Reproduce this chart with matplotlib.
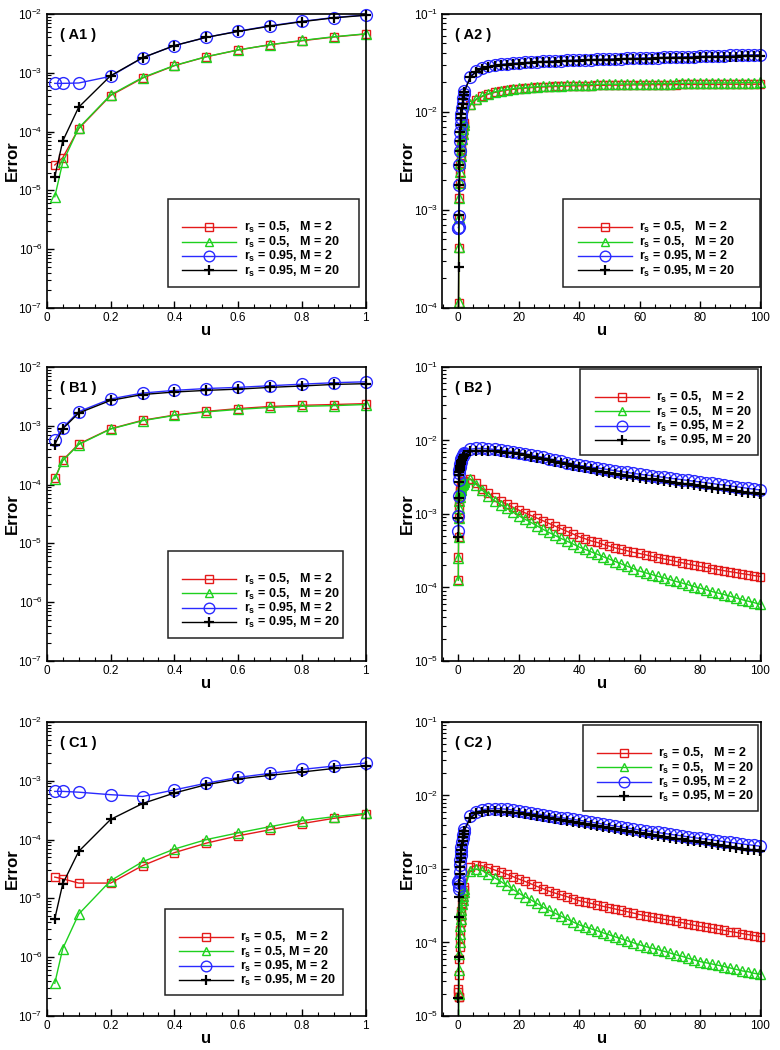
import numpy as np
import matplotlib
matplotlib.use('Agg')
import matplotlib.pyplot as plt
from matplotlib.ticker import LogLocator, MultipleLocator, FuncFormatter, NullFormatter
from matplotlib.patches import Rectangle

plt.rcParams['font.family'] = ['Liberation Sans', 'DejaVu Sans']
plt.rcParams['mathtext.fontset'] = 'custom'
plt.rcParams['mathtext.rm'] = 'Liberation Sans'
plt.rcParams['mathtext.bf'] = 'Liberation Sans:bold'
plt.rcParams['mathtext.it'] = 'Liberation Sans:italic'

# u grid (left panels), right panels continue with u_far
u_left = [0.025, 0.05, 0.1, 0.2, 0.3, 0.4, 0.5, 0.6, 0.7, 0.8, 0.9, 1.0]
u_far = [1.2, 1.4, 1.6, 1.8] + list(range(2, 101, 2))

labels = [r'r$_\mathbf{s}$ = 0.5,   M = 2', r'r$_\mathbf{s}$ = 0.5,   M = 20',
          r'r$_\mathbf{s}$ = 0.95, M = 2', r'r$_\mathbf{s}$ = 0.95, M = 20']
labels_c = [r'r$_\mathbf{s}$ = 0.5,   M = 2', r'r$_\mathbf{s}$ = 0.5, M = 20',
            r'r$_\mathbf{s}$ = 0.95, M = 2', r'r$_\mathbf{s}$ = 0.95, M = 20']

# ---- case A
a1_red = [2.7e-5, 3.6e-5, 1.12e-4, 4.1e-4, 8.1e-4, 1.32e-3, 1.87e-3, 2.44e-3, 3.0e-3, 3.5e-3, 4.06e-3, 4.56e-3]
a1_green = [7.8e-6, 3.0e-5, 1.15e-4, 4.2e-4, 8.3e-4, 1.33e-3, 1.88e-3, 2.45e-3, 3.0e-3, 3.55e-3, 4.1e-3, 4.6e-3]
a1_blue = [6.6e-4, 6.6e-4, 6.7e-4, 8.7e-4, 1.8e-3, 2.9e-3, 4.0e-3, 5.1e-3, 6.3e-3, 7.5e-3, 8.7e-3, 9.6e-3]
a1_black = [1.7e-5, 6.9e-5, 2.6e-4, 8.9e-4, 1.8e-3, 2.9e-3, 4.0e-3, 5.05e-3, 6.2e-3, 7.4e-3, 8.6e-3, 9.5e-3]

# far part (x1e-3)
a2_red = [5.2, 5.9, 6.6, 7.2,
          7.8, 11.7, 13.4, 14.4, 15.2, 15.8, 16.3, 16.7, 17.0, 17.3,
          17.5, 17.7, 17.9, 18.0, 18.1, 18.2, 18.3, 18.4, 18.5, 18.5,
          18.6, 18.6, 18.7, 18.7, 18.8, 18.8, 18.8, 18.9, 18.9, 18.9,
          18.9, 19.0, 19.0, 19.0, 19.0, 19.0, 19.1, 19.1, 19.1, 19.1,
          19.1, 19.1, 19.1, 19.2, 19.2, 19.2, 19.2, 19.2, 19.2, 19.2]
a2_green = [5.3, 6.0, 6.7, 7.3,
            7.9, 12.0, 13.6, 14.6, 15.4, 16.0, 16.5, 16.9, 17.2, 17.5,
            17.7, 17.9, 18.1, 18.2, 18.4, 18.5, 18.6, 18.7, 18.8, 18.9,
            19.0, 19.0, 19.1, 19.1, 19.2, 19.2, 19.3, 19.3, 19.3, 19.4,
            19.4, 19.4, 19.5, 19.5, 19.5, 19.6, 19.6, 19.6, 19.7, 19.7,
            19.7, 19.7, 19.8, 19.8, 19.8, 19.8, 19.9, 19.9, 19.9, 20.0]
a2_blue = [11.0, 12.4, 13.8, 15.2,
           16.5, 23.0, 26.2, 28.0, 29.2, 30.0, 30.6, 31.0, 31.4, 31.7,
           32.0, 32.3, 32.6, 32.8, 33.0, 33.2, 33.4, 33.6, 33.8, 34.0,
           34.1, 34.3, 34.4, 34.6, 34.7, 34.9, 35.0, 35.2, 35.3, 35.5,
           35.6, 35.8, 35.9, 36.1, 36.2, 36.4, 36.5, 36.7, 36.8, 37.0,
           37.1, 37.3, 37.4, 37.6, 37.7, 37.9, 38.0, 38.2, 38.3, 38.5]
a2_black = [10.9, 12.2, 13.5, 14.8,
            16.0, 22.8, 25.8, 27.5, 28.6, 29.4, 30.0, 30.5, 30.9, 31.2,
            31.5, 31.8, 32.1, 32.3, 32.5, 32.7, 32.9, 33.1, 33.3, 33.5,
            33.6, 33.8, 33.9, 34.0, 34.2, 34.3, 34.4, 34.6, 34.7, 34.8,
            34.9, 35.1, 35.2, 35.3, 35.4, 35.6, 35.7, 35.8, 35.9, 36.1,
            36.2, 36.3, 36.4, 36.5, 36.7, 36.8, 36.9, 37.0, 37.1, 37.2]

# ---- case B
b1_red = [1.27e-4, 2.6e-4, 4.9e-4, 8.9e-4, 1.24e-3, 1.52e-3, 1.76e-3, 1.96e-3, 2.13e-3, 2.23e-3, 2.3e-3, 2.38e-3]
b1_green = [1.25e-4, 2.55e-4, 4.8e-4, 8.8e-4, 1.22e-3, 1.5e-3, 1.72e-3, 1.9e-3, 2.05e-3, 2.14e-3, 2.2e-3, 2.3e-3]
b1_blue = [5.8e-4, 9.3e-4, 1.74e-3, 2.86e-3, 3.6e-3, 4.0e-3, 4.3e-3, 4.5e-3, 4.8e-3, 5.1e-3, 5.4e-3, 5.6e-3]
b1_black = [4.8e-4, 8.9e-4, 1.65e-3, 2.7e-3, 3.4e-3, 3.75e-3, 4.0e-3, 4.2e-3, 4.5e-3, 4.75e-3, 5.05e-3, 5.2e-3]

b2_red = [2.48, 2.58, 2.68, 2.76,
          2.85, 3.0, 2.6, 2.2, 1.9, 1.68, 1.50, 1.36, 1.24, 1.13,
          1.04, 0.957, 0.88, 0.81, 0.745, 0.685, 0.63, 0.58, 0.534, 0.49,
          0.46, 0.43, 0.41, 0.385, 0.365, 0.345, 0.33, 0.315, 0.30, 0.29,
          0.278, 0.266, 0.255, 0.245, 0.235, 0.226, 0.217, 0.209, 0.201, 0.194,
          0.187, 0.181, 0.175, 0.169, 0.164, 0.159, 0.154, 0.150, 0.145, 0.141]
b2_green = [2.45, 2.55, 2.65, 2.75,
            2.85, 2.95, 2.5, 2.1, 1.75, 1.52, 1.34, 1.19, 1.06, 0.95,
            0.85, 0.77, 0.69, 0.62, 0.56, 0.51, 0.465, 0.425, 0.39, 0.355,
            0.329, 0.305, 0.283, 0.262, 0.243, 0.225, 0.209, 0.194, 0.180, 0.167,
            0.158, 0.150, 0.142, 0.135, 0.128, 0.121, 0.115, 0.109, 0.103, 0.098,
            0.093, 0.088, 0.084, 0.080, 0.076, 0.072, 0.068, 0.065, 0.062, 0.059]
b2_blue = [5.9, 6.2, 6.4, 6.6,
           6.8, 7.6, 7.8, 7.8, 7.7, 7.55, 7.4, 7.25, 7.05, 6.85,
           6.62, 6.38, 6.14, 5.9, 5.67, 5.45, 5.23, 5.01, 4.81, 4.6,
           4.47, 4.35, 4.23, 4.11, 3.99, 3.88, 3.77, 3.67, 3.57, 3.47,
           3.39, 3.31, 3.23, 3.15, 3.07, 3.0, 2.93, 2.86, 2.79, 2.73,
           2.66, 2.6, 2.53, 2.47, 2.41, 2.35, 2.29, 2.23, 2.17, 2.12]
b2_black = [5.5, 5.8, 6.0, 6.2,
            6.4, 7.1, 7.3, 7.3, 7.25, 7.15, 7.0, 6.85, 6.67, 6.48,
            6.27, 6.05, 5.83, 5.6, 5.38, 5.16, 4.94, 4.73, 4.51, 4.3,
            4.16, 4.03, 3.9, 3.77, 3.65, 3.53, 3.42, 3.31, 3.2, 3.1,
            3.02, 2.95, 2.87, 2.8, 2.73, 2.66, 2.59, 2.53, 2.46, 2.4,
            2.34, 2.28, 2.22, 2.16, 2.1, 2.05, 2.0, 1.95, 1.9, 1.85]

# ---- case C
c1_red = [2.3e-5, 2.15e-5, 1.82e-5, 1.82e-5, 3.6e-5, 6.0e-5, 8.7e-5, 1.16e-4, 1.47e-4, 1.87e-4, 2.3e-4, 2.7e-4]
c1_green = [3.6e-7, 1.4e-6, 5.4e-6, 2.0e-5, 4.2e-5, 6.9e-5, 1.0e-4, 1.3e-4, 1.66e-4, 2.1e-4, 2.45e-4, 2.8e-4]
c1_blue = [6.6e-4, 6.6e-4, 6.4e-4, 5.8e-4, 5.4e-4, 7.0e-4, 9.1e-4, 1.14e-3, 1.34e-3, 1.56e-3, 1.78e-3, 2.0e-3]
c1_black = [4.5e-6, 1.77e-5, 6.3e-5, 2.2e-4, 4.1e-4, 6.2e-4, 8.6e-4, 1.07e-3, 1.24e-3, 1.41e-3, 1.62e-3, 1.8e-3]

c2_red = [0.33, 0.39, 0.45, 0.51,
          0.57, 1.05, 1.13, 1.1, 1.04, 0.97, 0.91, 0.85, 0.79, 0.73,
          0.68, 0.63, 0.58, 0.54, 0.50, 0.47, 0.445, 0.42, 0.395, 0.37,
          0.355, 0.34, 0.325, 0.31, 0.298, 0.285, 0.273, 0.262, 0.251, 0.24,
          0.231, 0.223, 0.215, 0.207, 0.200, 0.193, 0.186, 0.179, 0.172, 0.166,
          0.161, 0.156, 0.151, 0.146, 0.141, 0.137, 0.132, 0.128, 0.124, 0.12]
c2_green = [0.33, 0.38, 0.43, 0.48,
            0.53, 0.95, 1.0, 0.95, 0.85, 0.76, 0.68, 0.6, 0.53, 0.47,
            0.42, 0.38, 0.34, 0.305, 0.275, 0.25, 0.228, 0.208, 0.19, 0.174,
            0.163, 0.153, 0.144, 0.135, 0.127, 0.119, 0.112, 0.105, 0.099, 0.093,
            0.088, 0.084, 0.080, 0.076, 0.072, 0.068, 0.065, 0.061, 0.058, 0.055,
            0.053, 0.051, 0.049, 0.047, 0.045, 0.043, 0.041, 0.040, 0.038, 0.037]
c2_blue = [2.3, 2.6, 2.9, 3.2,
           3.5, 5.2, 6.0, 6.4, 6.6, 6.65, 6.6, 6.5, 6.35, 6.15,
           5.97, 5.8, 5.63, 5.47, 5.31, 5.16, 5.01, 4.87, 4.73, 4.6,
           4.46, 4.33, 4.2, 4.07, 3.95, 3.83, 3.72, 3.61, 3.5, 3.4,
           3.31, 3.22, 3.14, 3.05, 2.97, 2.89, 2.82, 2.74, 2.67, 2.6,
           2.54, 2.48, 2.42, 2.36, 2.3, 2.25, 2.19, 2.14, 2.09, 2.04]
c2_black = [2.1, 2.4, 2.7, 3.0,
            3.3, 5.0, 5.7, 6.0, 6.1, 6.1, 6.05, 5.95, 5.85, 5.75,
            5.57, 5.4, 5.23, 5.07, 4.91, 4.76, 4.61, 4.47, 4.33, 4.2,
            4.07, 3.95, 3.83, 3.71, 3.6, 3.49, 3.39, 3.29, 3.19, 3.1,
            3.01, 2.92, 2.83, 2.75, 2.67, 2.59, 2.52, 2.44, 2.37, 2.3,
            2.24, 2.18, 2.12, 2.06, 2.0, 1.95, 1.89, 1.84, 1.79, 1.75]

colors = ['#e41a1a', '#1ed01e', '#2a2aff', 'black']
markers = ['s', '^', 'o', '+']
msizes = [6.0, 7.0, 8.5, 7.5]

fig = plt.figure(figsize=(7.8, 10.5), dpi=100)

W = 0.409
rows_bottom = [0.7067, 0.3705, 0.0324]
H = 0.28
left_x, right_x = 0.060, 0.567


def setup(ax, left, ylo, yhi):
    ax.set_yscale('log')
    ax.set_ylim(ylo, yhi)
    if left:
        ax.set_xlim(0, 1)
        ax.xaxis.set_major_locator(MultipleLocator(0.2))
        ax.xaxis.set_minor_locator(MultipleLocator(0.05))
    else:
        ax.set_xlim(-5.3, 100.3)
        ax.xaxis.set_major_locator(MultipleLocator(20))
        ax.xaxis.set_minor_locator(MultipleLocator(5))
    ax.xaxis.set_major_formatter(FuncFormatter(lambda v, p: '%g' % v))
    ax.yaxis.set_major_locator(LogLocator(base=10, numticks=20))
    ax.yaxis.set_minor_locator(LogLocator(base=10, subs=np.arange(2, 10), numticks=20))
    ax.yaxis.set_minor_formatter(NullFormatter())
    ax.tick_params(which='both', direction='in', top=False, right=False, labelsize=8.5, pad=3)
    ax.tick_params(which='major', length=5, width=1)
    ax.tick_params(which='minor', length=3, width=0.8)
    for s in ax.spines.values():
        s.set_linewidth(1.2)
    ax.set_ylabel('Error', fontsize=12, fontweight='bold', labelpad=-1)
    ax.set_xlabel('u', fontsize=12, fontweight='bold', labelpad=-1)


def draw(ax, x, series, ylo):
    x = np.asarray(x)
    for y, c, m, ms in zip(series, colors, markers, msizes):
        y = np.asarray(y)
        ax.plot(x, y, '-', color=c, lw=1.0)
        keep = y >= ylo
        ax.plot(x[keep], y[keep], ls='none', marker=m, color=c, ms=ms,
                mfc='none', mec=c, mew=1.6 if m == '+' else 1.0, clip_on=False)


def legend(ax, box, labs):
    x0, y0, x1, y1 = box
    ax.add_patch(Rectangle((x0, y0), x1 - x0, y1 - y0, transform=ax.transAxes,
                           facecolor='white', edgecolor='#222222', lw=1.1, zorder=6))
    handles = [plt.Line2D([], [], color=c, lw=1.0, marker=m, ms=ms * 0.9, mfc='none',
                          mec=c, mew=1.6 if m == '+' else 1.0)
               for c, m, ms in zip(colors, markers, msizes)]
    leg = ax.legend(handles, labs, loc='upper left', bbox_to_anchor=(x0 + 0.045, y1 - 0.072),
                    frameon=False, handlelength=4.3, handletextpad=0.6, labelspacing=-0.06,
                    handleheight=0.6, borderpad=0, borderaxespad=0,
                    prop={'size': 9, 'weight': 'bold'})
    leg.set_zorder(7)


panels = [
    ('( A1 )', True, 1e-7, 1e-2, u_left, [a1_red, a1_green, a1_blue, a1_black], (0.38, 0.072, 0.978, 0.37), labels),
    ('( A2 )', False, 1e-4, 1e-1, u_left + u_far,
     [a1_red + [v * 1e-3 for v in a2_red], a1_green + [v * 1e-3 for v in a2_green],
      a1_blue + [v * 1e-3 for v in a2_blue], a1_black + [v * 1e-3 for v in a2_black]],
     (0.38, 0.072, 0.997, 0.37), labels),
    ('( B1 )', True, 1e-7, 1e-2, u_left, [b1_red, b1_green, b1_blue, b1_black], (0.38, 0.078, 0.93, 0.374), labels),
    ('( B2 )', False, 1e-5, 1e-1, u_left + u_far,
     [b1_red + [v * 1e-3 for v in b2_red], b1_green + [v * 1e-3 for v in b2_green],
      b1_blue + [v * 1e-3 for v in b2_blue], b1_black + [v * 1e-3 for v in b2_black]],
     (0.433, 0.70, 0.99, 0.993), labels),
    ('( C1 )', True, 1e-7, 1e-2, u_left, [c1_red, c1_green, c1_blue, c1_black], (0.37, 0.071, 0.93, 0.364), labels_c),
    ('( C2 )', False, 1e-5, 1e-1, u_left + u_far,
     [c1_red + [v * 1e-3 for v in c2_red], c1_green + [v * 1e-3 for v in c2_green],
      c1_blue + [v * 1e-3 for v in c2_blue], c1_black + [v * 1e-3 for v in c2_black]],
     (0.44, 0.697, 0.99, 0.99), labels),
]

for i, (tag, left, ylo, yhi, x, series, box, labs) in enumerate(panels):
    row, col = divmod(i, 2)
    ax = fig.add_axes([left_x if col == 0 else right_x, rows_bottom[row], W, H])
    setup(ax, left, ylo, yhi)
    draw(ax, x, series, ylo)
    legend(ax, box, labs)
    ax.text(0.04, 0.93, tag, transform=ax.transAxes, fontsize=10.5, fontweight='bold',
            va='center', ha='left')

fig.savefig('out.png', dpi=100)
